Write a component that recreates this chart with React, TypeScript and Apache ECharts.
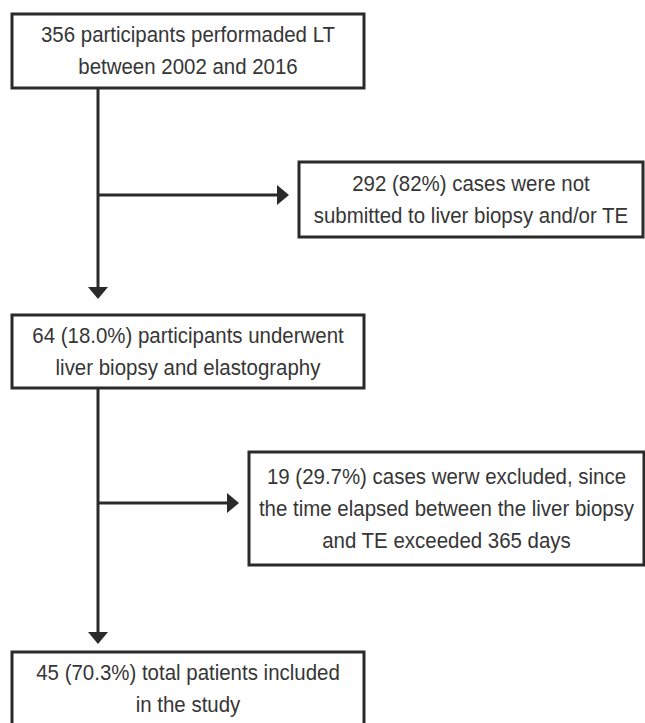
import React, { useEffect, useRef } from "react";
import * as echarts from "echarts";

// ---- content ----
const stepTexts: string[][] = [
  ["356 participants performaded LT", "between 2002 and 2016"],
  ["64 (18.0%) participants underwent", "liver biopsy and elastography"],
  ["45 (70.3%) total patients included", "in the study"],
];
const exclusionTexts: string[][] = [
  ["292 (82%) cases were not", "submitted to liver biopsy and/or TE"],
  [
    "19 (29.7%) cases werw excluded, since",
    "the time elapsed between the liver biopsy",
    "and TE exceeded 365 days",
  ],
];

// ---- layout (pixels) ----
const mainBoxes = [
  { x: 12, y: 14, w: 352, h: 74 },
  { x: 12, y: 315, w: 352, h: 73 },
  { x: 12, y: 652, w: 352, h: 74 },
];
const sideBoxes = [
  { x: 299, y: 162, w: 344, h: 75 },
  { x: 249, y: 452, w: 395, h: 113 },
];
const spineX = 98;
const branchY = [195, 503];

const INK = "#2a2a2a";
const TEXT = "#363636";
const FONT = '22px "Liberation Sans", Arial, sans-serif';

function box(b: { x: number; y: number; w: number; h: number }, lines: string[]) {
  return [
    {
      type: "rect",
      shape: { x: b.x, y: b.y, width: b.w, height: b.h },
      style: { fill: "#fff", stroke: INK, lineWidth: 3 },
      z: 1,
    },
    {
      type: "text",
      x: b.x + b.w / 2,
      y: b.y + b.h / 2,
      scaleX: 0.93,
      style: {
        text: lines.join("\n"),
        align: "center",
        verticalAlign: "middle",
        font: FONT,
        lineHeight: 32,
        fill: TEXT,
      },
      z: 2,
    },
  ];
}

function line(x1: number, y1: number, x2: number, y2: number) {
  return {
    type: "line",
    shape: { x1, y1, x2, y2 },
    style: { stroke: INK, lineWidth: 3 },
    z: 1,
  };
}

function downArrow(x: number, tipY: number) {
  return {
    type: "polygon",
    shape: { points: [[x - 10, tipY - 12], [x + 10, tipY - 12], [x, tipY]] },
    style: { fill: INK },
    z: 1,
  };
}

function rightArrow(tipX: number, y: number) {
  return {
    type: "polygon",
    shape: { points: [[tipX - 12, y - 10], [tipX - 12, y + 10], [tipX, y]] },
    style: { fill: INK },
    z: 1,
  };
}

export default function App() {
  const ref = useRef<HTMLDivElement>(null);
  useEffect(() => {
    if (!ref.current) return;
    const chart = echarts.init(ref.current, undefined, { renderer: "svg" });
    const elements: any[] = [];
    stepTexts.forEach((t, i) => elements.push(...box(mainBoxes[i], t)));
    exclusionTexts.forEach((t, i) => elements.push(...box(sideBoxes[i], t)));
    // spine segments
    const tip1 = mainBoxes[1].y - 16;
    const tip2 = mainBoxes[2].y - 8;
    elements.push(line(spineX, mainBoxes[0].y + mainBoxes[0].h, spineX, tip1 - 10));
    elements.push(downArrow(spineX, tip1));
    elements.push(line(spineX, mainBoxes[1].y + mainBoxes[1].h, spineX, tip2 - 10));
    elements.push(downArrow(spineX, tip2));
    // branches
    sideBoxes.forEach((b, i) => {
      const tipX = b.x - 10;
      elements.push(line(spineX, branchY[i], tipX - 10, branchY[i]));
      elements.push(rightArrow(tipX, branchY[i]));
    });
    chart.setOption({
      animation: false,
      backgroundColor: "#ffffff",
      graphic: { elements },
    });
    return () => chart.dispose();
  }, []);
  return (
    <div
      ref={ref}
      style={{ position: "fixed", left: 0, top: 0, width: 645, height: 723 }}
    />
  );
}
